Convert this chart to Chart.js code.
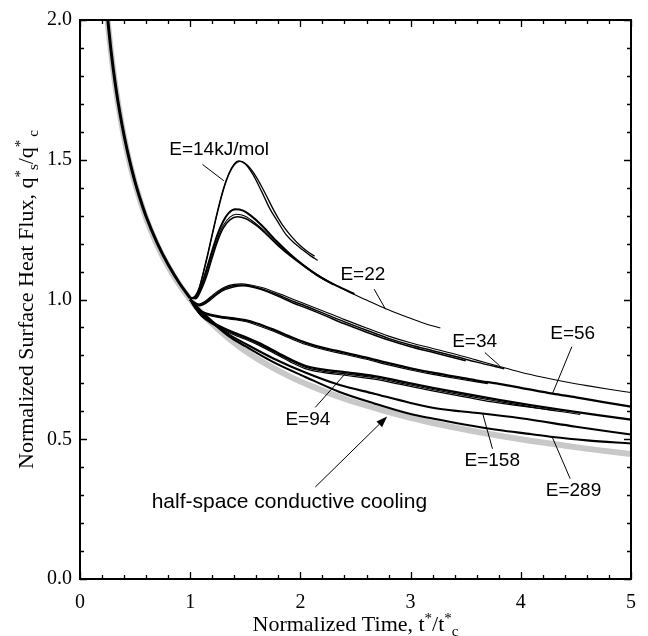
<!DOCTYPE html>
<html><head><meta charset="utf-8">
<script src="https://cdn.jsdelivr.net/npm/chart.js@4/dist/chart.umd.min.js"></script>
<style>html,body{margin:0;padding:0;background:#fff;}#wrap{width:648px;height:636px;}</style>
</head><body><div id="wrap"><canvas id="c" width="648" height="636"></canvas></div>
<script>
// ---------- data ----------
const xTickLabels = ['0','1','2','3','4','5'];
const yTickLabels = ['0.0','0.5','1.0','1.5','2.0'];

// half-space conductive cooling (grey)
const halfT = [0.25,0.28,0.32,0.36,0.4,0.45,0.5,0.6,0.7,0.8,0.9,1.0,1.1,1.2,1.35,1.5,1.7,1.9,2.1,2.4,2.7,3.0,3.3,3.6,4.0,4.4,4.7,5.0];
const halfQ = [2.0,1.89,1.768,1.667,1.581,1.491,1.414,1.291,1.195,1.118,1.054,1.0,0.953,0.913,0.861,0.816,0.767,0.725,0.69,0.645,0.609,0.577,0.55,0.527,0.5,0.477,0.461,0.447];

// common early trunk of all runs
const trunkT = [0.245,0.26,0.28,0.3,0.33,0.36,0.4,0.45,0.5,0.55,0.6,0.7,0.8,0.9,1.0];
const trunkQ = [2.03,1.97,1.895,1.83,1.745,1.672,1.587,1.497,1.42,1.355,1.297,1.203,1.125,1.06,1.005];

// E = 14 kJ/mol
const e14aT = [1.0,1.04,1.08,1.12,1.16,1.2,1.25,1.3,1.35,1.4,1.44,1.5,1.57,1.65,1.72,1.8,1.87,1.95,2.02,2.09,2.156];
const e14aQ = [1.005,1.01,1.04,1.10,1.165,1.235,1.32,1.395,1.45,1.485,1.496,1.485,1.447,1.385,1.327,1.275,1.232,1.2,1.178,1.157,1.14];
const e14bT = [1.0,1.04,1.08,1.12,1.16,1.2,1.25,1.3,1.35,1.4,1.45,1.52,1.6,1.68,1.76,1.84,1.92,2.0,2.08,2.13];
const e14bQ = [1.005,1.01,1.038,1.095,1.16,1.23,1.315,1.39,1.447,1.482,1.494,1.48,1.438,1.38,1.318,1.265,1.225,1.192,1.167,1.155];

// E = 22
const e22aT = [1.0,1.05,1.1,1.15,1.2,1.25,1.3,1.35,1.41,1.48,1.55,1.65,1.78,1.9,2.02,2.14,2.26,2.38,2.49];
const e22aQ = [1.005,1.01,1.05,1.11,1.175,1.235,1.28,1.31,1.323,1.318,1.3,1.265,1.21,1.165,1.125,1.09,1.063,1.04,1.02];
const e22bT = [1.0,1.05,1.1,1.15,1.2,1.25,1.3,1.36,1.42,1.5,1.6,1.7,1.8,1.92,2.04,2.16,2.3,2.45,2.6,2.78,2.95,3.1,3.27];
const e22bQ = [1.005,1.005,1.04,1.095,1.16,1.22,1.265,1.295,1.305,1.298,1.27,1.235,1.195,1.155,1.12,1.088,1.055,1.025,0.998,0.966,0.94,0.918,0.898];
const e22cT = [1.0,1.05,1.1,1.15,1.2,1.25,1.3,1.36,1.43,1.5,1.6,1.7,1.8,1.92,2.04,2.16,2.3];
const e22cQ = [1.005,1.003,1.035,1.085,1.15,1.21,1.255,1.285,1.296,1.29,1.265,1.23,1.192,1.152,1.117,1.085,1.052];

// E = 34
const e34aT = [1.0,1.04,1.08,1.12,1.18,1.25,1.32,1.4,1.46,1.55,1.65,1.8,1.95,2.05,2.2,2.4,2.6,2.8,3.0,3.2,3.4,3.6,3.8,4.0,4.2,4.4,4.6,4.8,5.0];
const e34aQ = [1.002,0.99,0.984,0.99,1.008,1.03,1.046,1.054,1.056,1.052,1.043,1.022,0.998,0.983,0.96,0.928,0.898,0.869,0.845,0.825,0.805,0.783,0.761,0.74,0.722,0.706,0.692,0.679,0.667];
const e34bT = [1.0,1.04,1.08,1.12,1.18,1.25,1.32,1.4,1.47,1.55,1.65,1.8,1.95,2.05,2.2,2.4,2.6,2.8,3.0,3.2,3.4,3.6,3.85];
const e34bQ = [1.002,0.988,0.981,0.986,1.003,1.025,1.041,1.05,1.052,1.048,1.038,1.016,0.991,0.976,0.952,0.92,0.89,0.861,0.837,0.817,0.797,0.776,0.752];
const e34cT = [1.0,1.04,1.08,1.12,1.18,1.25,1.32,1.4,1.48,1.56,1.66,1.8,1.95,2.05,2.2,2.4,2.6,2.8,3.0,3.2,3.5];
const e34cQ = [1.002,0.986,0.978,0.982,0.998,1.02,1.036,1.046,1.049,1.045,1.034,1.011,0.985,0.97,0.946,0.913,0.883,0.855,0.831,0.811,0.781];

// E = 56
const e56aT = [1.0,1.05,1.1,1.2,1.3,1.4,1.5,1.6,1.75,1.9,2.05,2.2,2.4,2.6,2.8,3.0,3.2,3.4,3.6,3.8,4.0,4.29,4.5,4.75,5.0];
const e56aQ = [1.0,0.975,0.957,0.944,0.937,0.932,0.926,0.915,0.893,0.868,0.845,0.828,0.81,0.792,0.772,0.754,0.738,0.724,0.71,0.698,0.684,0.663,0.65,0.633,0.617];
const e56bT = [1.0,1.05,1.1,1.2,1.3,1.4,1.5,1.6,1.75,1.9,2.05,2.2,2.4,2.6,2.8,3.0,3.2,3.4,3.7];
const e56bQ = [1.0,0.973,0.954,0.94,0.933,0.928,0.921,0.909,0.887,0.862,0.839,0.822,0.804,0.786,0.766,0.748,0.732,0.718,0.699];

// E = 94
const e94aT = [1.0,1.05,1.1,1.2,1.3,1.4,1.5,1.63,1.8,1.95,2.05,2.2,2.42,2.67,2.9,3.2,3.5,3.8,4.1,4.4,4.7,5.0];
const e94aQ = [1.0,0.968,0.945,0.918,0.898,0.881,0.866,0.843,0.808,0.778,0.762,0.75,0.739,0.726,0.708,0.684,0.662,0.641,0.621,0.603,0.586,0.57];
const e94bT = [1.0,1.05,1.1,1.2,1.3,1.4,1.5,1.63,1.8,1.95,2.05,2.2,2.42,2.67,2.9,3.2,3.5,3.8,4.1,4.54];
const e94bQ = [1.0,0.967,0.943,0.915,0.895,0.877,0.862,0.839,0.804,0.774,0.757,0.744,0.733,0.72,0.702,0.678,0.656,0.635,0.615,0.589];
const e94cT = [1.0,1.05,1.1,1.2,1.3,1.4,1.5,1.63,1.8,1.95,2.05,2.2,2.42,2.67,2.9,3.2,3.5,3.8,4.3];
const e94cQ = [1.0,0.966,0.941,0.912,0.891,0.873,0.858,0.835,0.8,0.769,0.752,0.739,0.728,0.715,0.697,0.673,0.651,0.63,0.603];

// E = 158
const e158T = [1.0,1.1,1.2,1.35,1.5,1.75,2.05,2.35,2.67,3.0,3.2,3.45,3.65,4.0,4.5,5.0];
const e158Q = [1.0,0.958,0.922,0.875,0.842,0.79,0.738,0.695,0.663,0.63,0.613,0.6,0.592,0.575,0.545,0.517];

// E = 289
const e289T = [1.0,1.1,1.2,1.35,1.5,1.75,2.05,2.35,2.67,3.0,3.2,3.5,3.8,4.1,4.29,4.6,5.0];
const e289Q = [1.0,0.955,0.918,0.869,0.833,0.777,0.722,0.67,0.628,0.59,0.574,0.552,0.533,0.518,0.508,0.496,0.485];

// ---------- helpers ----------
function pts(t, q){ return t.map((v,i)=>({x:v,y:q[i]})); }
function ds(t,q,w,color,order){
  return {data:pts(t,q), showLine:true, borderColor:color||'#000', borderWidth:w,
          pointRadius:0, fill:false, cubicInterpolationMode:'monotone', order:order||0};
}
const datasets = [
  ds(trunkT,trunkQ,3),
  ds(e14aT,e14aQ,1.3), ds(e14bT,e14bQ,1.3),
  ds(e22aT,e22aQ,2.0), ds(e22bT,e22bQ,1.1), ds(e22cT,e22cQ,1.5),
  ds(e34aT,e34aQ,1.1), ds(e34bT,e34bQ,1.5), ds(e34cT,e34cQ,1.5),
  ds(e56aT,e56aQ,2.3), ds(e56bT,e56bQ,1.1),
  ds(e94aT,e94aQ,2.3), ds(e94bT,e94bQ,1.2), ds(e94cT,e94cQ,1.2),
  ds(e158T,e158Q,2.1),
  ds(e289T,e289Q,2.1),
  ds(halfT,halfQ,6,'#c8c8c8',10)
];

// annotations (data coordinates)
const annotations = [
  {text:'E=14kJ/mol', x:1.263, y:1.535, l:[1.112,1.483,1.305,1.425]},
  {text:'E=22', x:2.567, y:1.090, l:[2.669,1.037,2.773,0.965]},
  {text:'E=34', x:3.581, y:0.847, l:[3.674,0.810,3.808,0.763]},
  {text:'E=56', x:4.471, y:0.879, l:[4.463,0.831,4.286,0.662]},
  {text:'E=94', x:2.068, y:0.570, l:[2.135,0.614,2.417,0.739]},
  {text:'E=158', x:3.741, y:0.424, l:[3.743,0.466,3.654,0.592]},
  {text:'E=289', x:4.478, y:0.316, l:[4.448,0.359,4.286,0.507]}
];
const halfLabel = {text:'half-space conductive cooling', x:1.900, y:0.273};
const arrow = [2.135,0.329,2.787,0.581];

function drawRich(ctx, segs, x, y, align){
  let total = 0;
  segs.forEach(s=>{ ctx.font = s.size+'px "Liberation Serif"'; s.w = ctx.measureText(s.t).width; total += s.w + (s.gap||0); });
  let cx = align==='center' ? x - total/2 : x;
  segs.forEach(s=>{ ctx.font = s.size+'px "Liberation Serif"'; cx += (s.gap||0); ctx.fillText(s.t, cx, y + (s.dy||0)); cx += s.w; });
}

const framePlugin = {
  id:'frame',
  afterDraw(chart){
    const {ctx, chartArea:a, scales:{x, y}} = chart;
    ctx.save();
    ctx.strokeStyle='#000'; ctx.lineWidth=2;
    ctx.strokeRect(a.left, a.top, a.right-a.left, a.bottom-a.top);
    ctx.lineWidth=1.3;
    ctx.beginPath();
    for(let i=0;i<=25;i++){
      const v=i*0.2, px=Math.round(x.getPixelForValue(v))+0.5, len=(i%5===0)?7:4;
      ctx.moveTo(px,a.bottom); ctx.lineTo(px,a.bottom-len);
      ctx.moveTo(px,a.top); ctx.lineTo(px,a.top+len);
    }
    for(let i=0;i<=20;i++){
      const v=i*0.1, py=Math.round(y.getPixelForValue(v))+0.5, len=(i%5===0)?7:4;
      ctx.moveTo(a.left,py); ctx.lineTo(a.left+len,py);
      ctx.moveTo(a.right,py); ctx.lineTo(a.right-len,py);
    }
    ctx.stroke();

    ctx.fillStyle='#000'; ctx.strokeStyle='#000'; ctx.lineWidth=1;
    ctx.font='19px "Liberation Sans"'; ctx.textAlign='center'; ctx.textBaseline='middle';
    annotations.forEach(an=>{
      ctx.fillText(an.text, x.getPixelForValue(an.x), y.getPixelForValue(an.y));
      ctx.beginPath();
      ctx.moveTo(x.getPixelForValue(an.l[0]), y.getPixelForValue(an.l[1]));
      ctx.lineTo(x.getPixelForValue(an.l[2]), y.getPixelForValue(an.l[3]));
      ctx.stroke();
    });
    ctx.font='21px "Liberation Sans"';
    ctx.fillText(halfLabel.text, x.getPixelForValue(halfLabel.x), y.getPixelForValue(halfLabel.y));
    const x1=x.getPixelForValue(arrow[0]), y1=y.getPixelForValue(arrow[1]);
    const x2=x.getPixelForValue(arrow[2]), y2=y.getPixelForValue(arrow[3]);
    const ang=Math.atan2(y2-y1,x2-x1), hl=11, hw=4;
    ctx.beginPath(); ctx.moveTo(x1,y1);
    ctx.lineTo(x2-hl*Math.cos(ang), y2-hl*Math.sin(ang)); ctx.stroke();
    ctx.beginPath(); ctx.moveTo(x2,y2);
    ctx.lineTo(x2-hl*Math.cos(ang)+hw*Math.sin(ang), y2-hl*Math.sin(ang)-hw*Math.cos(ang));
    ctx.lineTo(x2-hl*Math.cos(ang)-hw*Math.sin(ang), y2-hl*Math.sin(ang)+hw*Math.cos(ang));
    ctx.closePath(); ctx.fill();

    ctx.textAlign='left'; ctx.textBaseline='alphabetic';
    drawRich(ctx, [
      {t:'Normalized Time, t', size:22},
      {t:'*', size:15, dy:-8},
      {t:'/t', size:22},
      {t:'*', size:15, dy:-8},
      {t:'c', size:15, dy:5}
    ], (a.left+a.right)/2, 631, 'center');
    ctx.save();
    ctx.translate(33, (a.top+a.bottom)/2);
    ctx.rotate(-Math.PI/2);
    drawRich(ctx, [
      {t:'Normalized Surface Heat Flux, q', size:22},
      {t:'*', size:15, dy:-8},
      {t:'s', size:15, dy:5},
      {t:'/q', size:22},
      {t:'*', size:15, dy:-8},
      {t:'c', size:15, dy:5, gap:3}
    ], 0, 0, 'center');
    ctx.restore();
    ctx.restore();
  }
};

new Chart(document.getElementById('c').getContext('2d'), {
  type:'scatter',
  data:{datasets},
  options:{
    responsive:false, animation:false, devicePixelRatio:1,
    layout:{padding:{left:0,right:6,top:18,bottom:0}},
    plugins:{legend:{display:false}, tooltip:{enabled:false}},
    elements:{point:{radius:0}},
    scales:{
      x:{type:'linear', min:0, max:5,
         afterFit:s=>{s.height=57;},
         grid:{display:false, drawTicks:false}, border:{display:false},
         ticks:{stepSize:1, padding:12, color:'#000', maxRotation:0,
                font:{family:'Liberation Serif', size:20},
                callback:v=>xTickLabels[Math.round(v)]}},
      y:{type:'linear', min:0, max:2,
         afterFit:s=>{s.width=80;},
         grid:{display:false, drawTicks:false}, border:{display:false},
         ticks:{stepSize:0.5, padding:8, color:'#000',
                font:{family:'Liberation Serif', size:20},
                callback:v=>yTickLabels[Math.round(v*2)]}}
    }
  },
  plugins:[framePlugin]
});
</script></body></html>
